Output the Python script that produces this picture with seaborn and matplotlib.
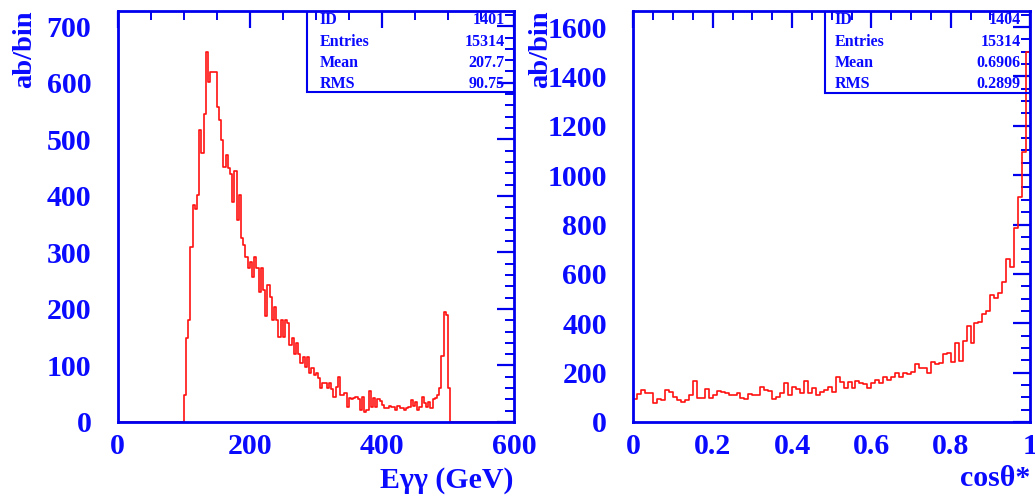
import numpy as np
import pandas as pd
import matplotlib
matplotlib.use("Agg")
import matplotlib.pyplot as plt
from matplotlib.patches import Rectangle
from matplotlib.ticker import MultipleLocator, FuncFormatter
import seaborn as sns

# ---------------- data ----------------
# Left: E_gammagamma histogram, 180 bins over 0..600 GeV (ab/bin)
e_range = (0, 600)
e_nbins = 180
e_zero_head = [0] * 30
e_vals = [
    48, 148, 180, 310, 383, 376, 401, 516, 475, 545,
    654, 601, 619, 619, 619, 557, 535, 498, 451, 473,
    450, 439, 389, 444, 357, 401, 326, 313, 292, 272,
    283, 257, 292, 272, 230, 272, 233, 187, 242, 221,
    181, 203, 181, 151, 181, 151, 180, 175, 136, 148,
    121, 139, 121, 104, 115, 98, 115, 86, 95, 83,
    86, 77, 60, 69, 69, 60, 69, 58, 45, 62,
    80, 48, 48, 52, 26, 42, 40, 42, 45, 40,
    21, 45, 18, 22, 54, 27, 42, 27, 40, 38,
    30, 24, 24, 28, 26, 27, 22, 28, 24, 24,
    22, 24, 26, 39, 28, 35, 21, 27, 44, 33,
    27, 35, 24, 40, 42, 48, 61, 117, 195, 190,
    61,
]
e_zero_tail = [0] * (e_nbins - 30 - len(e_vals))
e_counts = e_zero_head + e_vals + e_zero_tail

# Right: cos(theta*) histogram, 100 bins over 0..1 (ab/bin)
c_range = (0, 1)
c_nbins = 100
c_counts = [
    92, 114, 130, 116, 116, 76, 92, 90, 130, 123,
    103, 90, 83, 90, 109, 166, 96, 96, 132, 96,
    109, 125, 120, 116, 109, 109, 116, 96, 92, 112,
    109, 109, 140, 130, 125, 92, 103, 116, 157, 109,
    143, 132, 116, 166, 116, 136, 109, 120, 130, 140,
    123, 181, 163, 136, 163, 136, 167, 157, 154, 136,
    159, 170, 159, 184, 170, 184, 200, 184, 200, 194,
    204, 233, 220, 217, 200, 244, 235, 238, 275, 278,
    244, 319, 248, 329, 389, 321, 402, 406, 437, 451,
    514, 501, 521, 568, 659, 629, 784, 912, 1094, 1499,
]

stats_left = [("ID", "1401"), ("Entries", "15314"), ("Mean", "207.7"), ("RMS", "90.75")]
stats_right = [("ID", "1404"), ("Entries", "15314"), ("Mean", "0.6906"), ("RMS", "0.2899")]

# ---------------- style ----------------
sns.set_theme(style="white")
plt.rcParams["font.family"] = ["Liberation Serif", "DejaVu Serif"]
plt.rcParams["font.weight"] = "bold"

BLUE = "#0000ee"
TXT = "#0a0aff"
RED = "#ff1010"

fig = plt.figure(figsize=(10.35, 4.99), dpi=100)
axL = fig.add_axes([117.7 / 1035, 77 / 499, 396.3 / 1035, 411 / 499])
axR = fig.add_axes([633.4 / 1035, 77 / 499, 396.6 / 1035, 411 / 499])

e_w = (e_range[1] - e_range[0]) / e_nbins
c_w = (c_range[1] - c_range[0]) / c_nbins
dfL = pd.DataFrame({"x": e_range[0] + e_w * (np.arange(e_nbins) + 0.5), "w": e_counts})
dfR = pd.DataFrame({"x": c_range[0] + c_w * (np.arange(c_nbins) + 0.5), "w": c_counts})

sns.histplot(data=dfL, x="x", weights="w", bins=e_nbins, binrange=e_range,
             element="step", fill=False, color=RED, linewidth=1.2, ax=axL)
sns.histplot(data=dfR, x="x", weights="w", bins=c_nbins, binrange=c_range,
             element="step", fill=False, color=RED, linewidth=1.2, ax=axR)


def style_axis(ax, xlim, ylim, xmaj, xmin, ymaj, ymin):
    ax.set_xlim(*xlim)
    ax.set_ylim(*ylim)
    ax.set_xlabel("")
    ax.set_ylabel("")
    ax.grid(False)
    ax.xaxis.set_major_locator(MultipleLocator(xmaj))
    ax.xaxis.set_minor_locator(MultipleLocator(xmin))
    ax.yaxis.set_major_locator(MultipleLocator(ymaj))
    ax.yaxis.set_minor_locator(MultipleLocator(ymin))
    for s in ax.spines.values():
        s.set_color(BLUE)
        s.set_linewidth(2.0)
        s.set_visible(True)
    ax.tick_params(which="both", direction="in", top=True, right=True,
                   color=BLUE, labelcolor=TXT, labelsize=21.5)
    ax.tick_params(which="major", length=12.5, width=1.6)
    ax.tick_params(which="minor", length=6.5, width=1.4)
    ax.tick_params(axis="y", pad=19)
    ax.tick_params(axis="x", pad=8)


style_axis(axL, (0, 600), (0, 727), 200, 50, 100, 20)
style_axis(axR, (0, 1), (0, 1665), 0.2, 0.05, 200, 50)
axR.xaxis.set_major_formatter(FuncFormatter(
    lambda v, p: "0" if abs(v) < 1e-9 else ("1" if abs(v - 1) < 1e-9 else f"{v:.1f}")))
for ax in (axL, axR):
    for lab in ax.get_xticklabels() + ax.get_yticklabels():
        lab.set_fontweight("bold")


def stats_box(ax, x0, y0, tx, vx, rows):
    ax.add_patch(Rectangle((x0, y0), 1 - x0, 1 - y0, transform=ax.transAxes,
                           fill=False, edgecolor=BLUE, linewidth=1.5, zorder=5))
    ys = [0.978, 0.925, 0.8735, 0.822]
    for (k, v), y in zip(rows, ys):
        ax.text(tx, y, k, transform=ax.transAxes, ha="left", va="center",
                fontsize=11.5, fontweight="bold", color=TXT, zorder=6)
        ax.text(vx, y, v, transform=ax.transAxes, ha="right", va="center",
                fontsize=11.5, fontweight="bold", color=TXT, zorder=6)


stats_box(axL, 0.478, 0.804, 0.510, 0.977, stats_left)
stats_box(axR, 0.483, 0.801, 0.508, 0.977, stats_right)

for ax in (axL, axR):
    ax.text(-0.234, 1.0, "ab/bin", transform=ax.transAxes, rotation=90,
            ha="center", va="top", fontsize=20.5, fontweight="bold", color=TXT)

axL.text(1.0, -0.143, "E\u03b3\u03b3 (GeV)", transform=axL.transAxes, ha="right",
         va="center", fontsize=21.5, fontweight="bold", color=TXT)
axR.text(1.0, -0.137, "cos\u03b8*", transform=axR.transAxes, ha="right",
         va="center", fontsize=21.5, fontweight="bold", color=TXT)

fig.savefig("out.png", dpi=100)
